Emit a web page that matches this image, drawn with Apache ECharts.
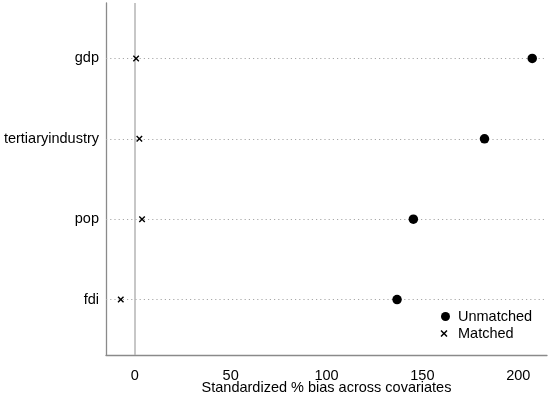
<!DOCTYPE html>
<html><head><meta charset="utf-8">
<script src="https://cdn.jsdelivr.net/npm/echarts@6/dist/echarts.min.js"></script>
<style>html,body{margin:0;padding:0;background:#fff}#c{width:550px;height:396px}</style>
</head><body><div id="c"></div>
<script>
const categories = ['fdi', 'pop', 'tertiaryindustry', 'gdp'];
const unmatched = [136.8, 145.3, 182.4, 207.3];
const matched = [-7.3, 3.8, 2.4, 0.7];
const xTicks = [0, 50, 100, 150, 200];
const catPos = categories.map((c, i) => i + 1);

const xSym = 'path://M0,1.5L1.5,0L5,3.5L8.5,0L10,1.5L6.5,5L10,8.5L8.5,10L5,6.5L1.5,10L0,8.5L3.5,5Z';
const font = 'Liberation Sans, Arial, sans-serif';
const fs = 14.5;

const chart = echarts.init(document.getElementById('c'));
chart.setOption({
  animation: false,
  grid: { left: 106, right: 3, top: 3, bottom: 41, containLabel: false, outerBoundsMode: 'none' },
  xAxis: {
    type: 'value', min: -15, max: 215,
    name: 'Standardized % bias across covariates',
    nameLocation: 'middle', nameGap: 25, nameMoveOverlap: false,
    nameTextStyle: { color: '#000', fontSize: fs, fontFamily: font },
    axisLine: { show: true, onZero: false, lineStyle: { color: '#8a8a8a', width: 1.3 } },
    axisTick: { show: false },
    splitLine: { show: false },
    axisLabel: { customValues: xTicks, color: '#000', fontSize: fs, fontFamily: font, margin: 13 }
  },
  yAxis: {
    type: 'value', min: 0.31, max: 4.69,
    axisLine: { show: true, onZero: false, lineStyle: { color: '#8a8a8a', width: 1.3 } },
    axisTick: { show: false },
    splitLine: { show: false },
    axisLabel: {
      customValues: catPos, color: '#000', fontSize: fs, fontFamily: font, margin: 7,
      formatter: v => categories[Math.round(v) - 1] || ''
    }
  },
  legend: [
    {
      orient: 'vertical', left: 436, top: 304,
      itemWidth: 9, itemHeight: 9, itemGap: 5,
      textStyle: { color: '#000', fontSize: fs, fontFamily: font, padding: [0, 0, 0, 3] },
      data: [{ name: 'Unmatched', icon: 'circle', itemStyle: { color: '#000', opacity: 1 } }]
    },
    {
      orient: 'vertical', left: 435.5, top: 321,
      itemWidth: 7, itemHeight: 7, itemGap: 5,
      textStyle: { color: '#000', fontSize: fs, fontFamily: font, padding: [0, 0, 0, 5.5] },
      data: [{ name: 'Matched', icon: xSym, itemStyle: { color: '#000', opacity: 1 } }]
    }
  ],
  series: [
    {
      name: 'Unmatched', type: 'scatter', symbol: 'circle', symbolSize: 9.5,
      itemStyle: { color: '#000', opacity: 1 },
      data: unmatched.map((v, i) => [v, catPos[i]]),
      z: 5,
      markLine: {
        silent: true, symbol: 'none', label: { show: false },
        lineStyle: { color: '#a8a8a8', type: [1.2, 3], width: 1 },
        data: catPos.map(p => ({ yAxis: p }))
      }
    },
    {
      name: 'Matched', type: 'scatter', symbol: xSym, symbolSize: 6.5,
      itemStyle: { color: '#000', opacity: 1 },
      data: matched.map((v, i) => [v, catPos[i]]),
      z: 5,
      markLine: {
        silent: true, symbol: 'none', label: { show: false },
        lineStyle: { color: '#b4b4b4', type: 'solid', width: 1.5 },
        data: [{ xAxis: 0 }]
      }
    }
  ]
});
</script></body></html>
